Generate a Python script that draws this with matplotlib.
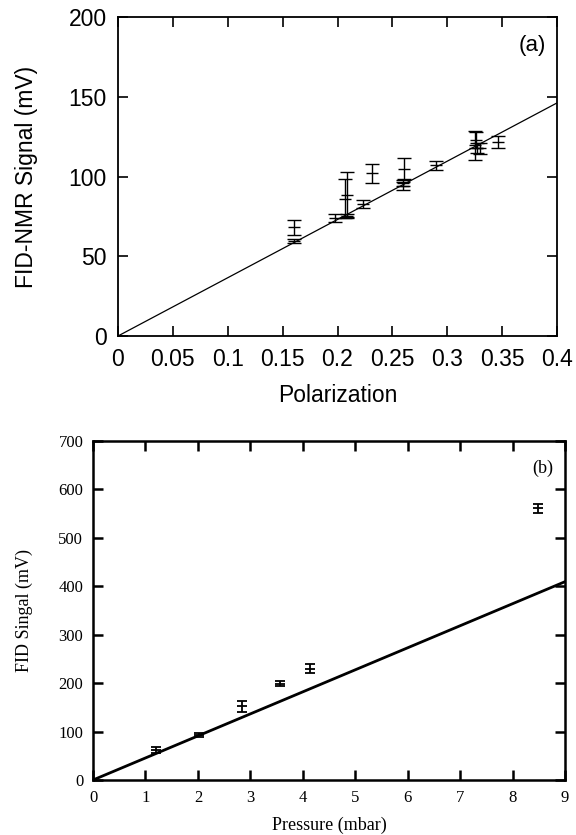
import matplotlib
matplotlib.use("Agg", force=True)
import matplotlib.pyplot as plt
import numpy as np

# --- panel (a): FID-NMR signal vs polarization ---
pol = [0.160, 0.160, 0.198, 0.209, 0.207, 0.209, 0.223, 0.231,
       0.261, 0.260, 0.260, 0.290, 0.325, 0.326, 0.327, 0.330, 0.346]
sig_a = [68.3, 59.5, 74.1, 88.5, 86.2, 75.5, 82.7, 102.1,
         105.0, 96.0, 94.0, 106.9, 119.6, 123.0, 118.0, 117.7, 121.7]
err_a = [4.7, 1.5, 2.6, 14.3, 12.0, 1.0, 2.3, 6.0,
         6.5, 2.0, 2.5, 2.8, 9.0, 5.0, 3.0, 3.3, 3.9]
slope_a = 365.3  # mV per unit polarization

# --- panel (b): FID signal vs pressure ---
press = [1.21, 2.03, 2.84, 3.56, 4.13, 8.49]
sig_b = [62.5, 93.0, 152.0, 199.0, 229.7, 560.7]
err_b = [6.0, 4.0, 11.0, 5.0, 9.0, 9.0]
slope_b = 45.5  # mV per mbar

fig = plt.figure(figsize=(5.76, 8.35), dpi=100)
W, H = 576.0, 835.0

# top panel, Helvetica-like (gnuplot)
ax1 = fig.add_axes([118 / W, 1 - 336 / H, (557 - 118) / W, (336 - 17) / H])
sans = "Liberation Sans"
xl = np.array([0.0, 0.4])
ax1.plot(xl, slope_a * xl, color="black", lw=0.9)
ax1.errorbar(pol, sig_a, yerr=err_a, fmt="none", ecolor="black",
             elinewidth=1.0, capsize=4.7, capthick=1.0)
ax1.plot(pol, sig_a, ls="none", marker="_", ms=9, mew=1.0, color="black")
ax1.set_xlim(0, 0.4)
ax1.set_ylim(0, 200)
ax1.set_xticks([0, 0.05, 0.1, 0.15, 0.2, 0.25, 0.3, 0.35, 0.4])
ax1.set_xticklabels(["0", "0.05", "0.1", "0.15", "0.2", "0.25", "0.3", "0.35", "0.4"])
ax1.set_yticks([0, 50, 100, 150, 200])
ax1.tick_params(direction="in", length=7, width=1.2, top=True, right=True,
                labelsize=16.5)
ax1.tick_params(axis="x", pad=9)
ax1.tick_params(axis="y", pad=8)
for lab in ax1.get_xticklabels() + ax1.get_yticklabels():
    lab.set_fontfamily(sans)
for s in ax1.spines.values():
    s.set_linewidth(1.3)
ax1.set_xlabel("Polarization", fontsize=16.5, family=sans, labelpad=9)
ax1.set_ylabel("FID-NMR Signal (mV)", fontsize=16.5, family=sans, labelpad=22)
ax1.text(0.975, 0.91, "(a)", transform=ax1.transAxes, ha="right", va="center",
         fontsize=16, family=sans)

# bottom panel, Times-like
serif = "Liberation Serif"
ax2 = fig.add_axes([93 / W, 1 - 780 / H, (565 - 93) / W, (780 - 441) / H])
xp = np.array([0.0, 9.0])
ax2.plot(xp, slope_b * xp, color="black", lw=2.0)
ax2.errorbar(press, sig_b, yerr=err_b, fmt="none", ecolor="black",
             elinewidth=1.3, capsize=3.3, capthick=1.3)
ax2.plot(press, sig_b, ls="none", marker="_", ms=6.6, mew=1.3, color="black")
ax2.set_xlim(0, 9)
ax2.set_ylim(0, 700)
ax2.set_xticks(range(0, 10))
ax2.set_yticks(range(0, 701, 100))
ax2.tick_params(direction="in", length=7, width=1.8, top=True, right=True,
                labelsize=12, pad=7)
for lab in ax2.get_xticklabels() + ax2.get_yticklabels():
    lab.set_fontfamily(serif)
for s in ax2.spines.values():
    s.set_linewidth(1.8)
ax2.set_xlabel("Pressure (mbar)", fontsize=13, family=serif, labelpad=8)
ax2.set_ylabel("FID Singal (mV)", fontsize=13, family=serif, labelpad=18)
ax2.text(0.975, 0.92, "(b)", transform=ax2.transAxes, ha="right", va="center",
         fontsize=13, family=serif)

fig.savefig("out.png", dpi=100)
